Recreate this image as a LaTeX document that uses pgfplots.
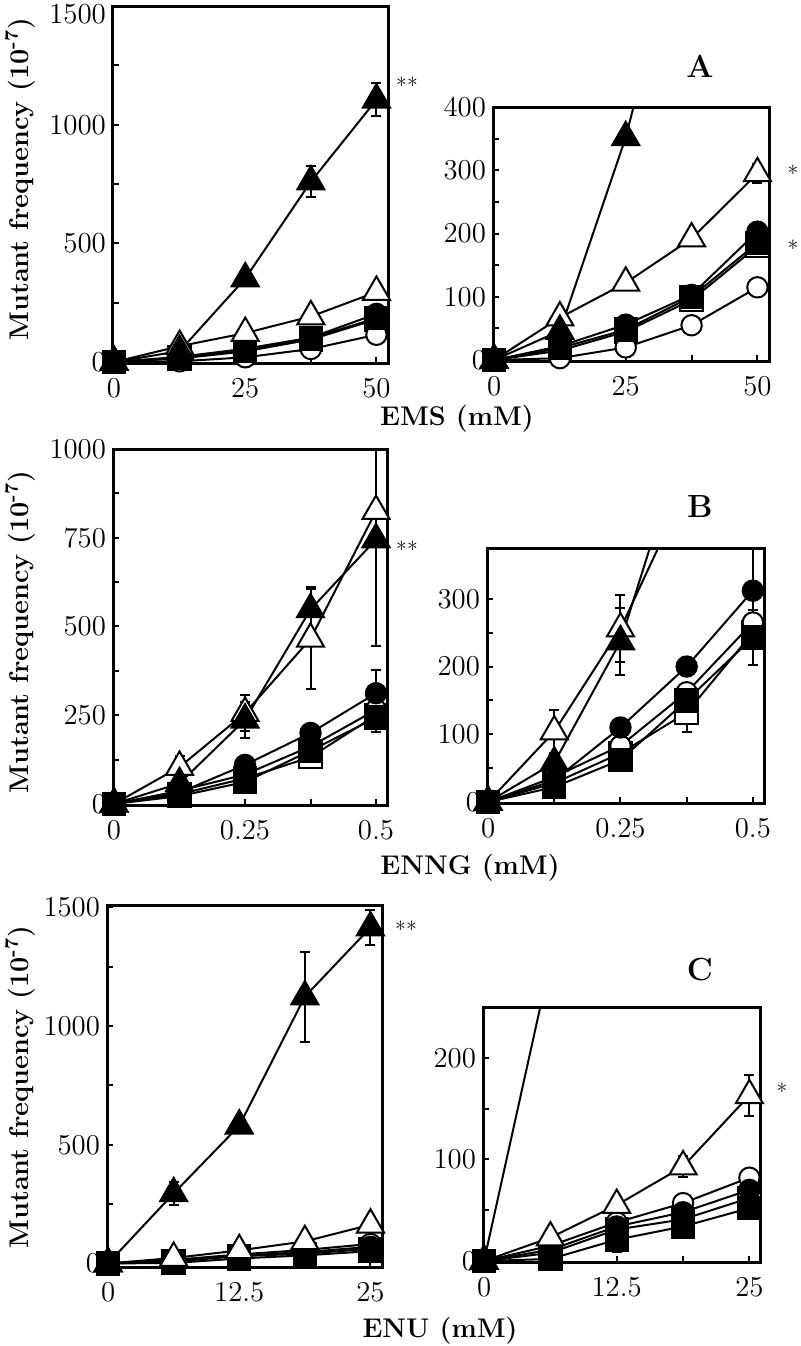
\documentclass[border=0pt]{standalone}
\usepackage{pgfplots}
\pgfplotsset{compat=1.18}
\usepackage{pgfplotstable}

\pgfplotstableread{
x ft ot fc oc fs os
0 0 0 0 0 0 0
12.5 46 67 22 3 19 15
25 352 122 56 20 48 45
37.5 760 192 103 55 100 95
50 1105 295 203 115 185 180
}\dataA
\pgfplotstableread{
x y e
37.5 760 65
50 1105 70
50 295 15
}\errA

\pgfplotstableread{
x ft ot fc oc fs os
0 0 0 0 0 0 0
0.125 58 104 32 37 22 28
0.25 237 256 110 83 62 72
0.375 548 465 200 162 150 132
0.5 745 825 312 265 243 250
}\dataB
\pgfplotstableread{
x y e
0.125 104 32
0.25 256 50
0.25 237 50
0.375 548 62
0.375 465 140
0.375 132 28
0.5 745 300
0.5 312 65
0.5 243 40
}\errB
\pgfplotstableread{
x y e
0.125 104 32
0.25 256 50
0.25 237 50
0.375 132 28
0.5 312 65
0.5 243 40
}\errBr

\pgfplotstableread{
x ft ot fc oc fs os
0 0 0 0 0 0 0
6.25 295 23 11 15 2 8
12.5 580 55 34 38 21 31
18.75 1124 93 48 57 34 41
25 1415 163 70 82 52 62
}\dataC
\pgfplotstableread{
x y e
6.25 295 50
18.75 1124 190
25 1415 75
18.75 93 10
25 163 20
12.5 21 12
}\errC
\pgfplotstableread{
x y e
18.75 93 10
25 163 20
12.5 21 12
}\errCr

\pgfplotsset{
  panel/.style={
    scale only axis, anchor=south west,
    axis line style={line width=1.5pt},
    tick style={line width=1pt, black},
    tick align=inside, xtick pos=bottom, ytick pos=left,
    major tick length=3pt, minor tick length=3pt,
    minor x tick num=1, minor y tick num=1,
    tick label style={font=\fontsize{14.5}{16}\selectfont},
    /pgf/number format/1000 sep={},
    xticklabel style={yshift=-4.5pt},
  },
  ser/.style={line width=1pt, black},
  ftri/.style={ser, mark=triangle*, mark size=7.8pt, mark options={fill=black, draw=black, line width=1pt, solid}},
  otri/.style={ser, mark=triangle*, mark size=7.8pt, mark options={fill=white, draw=black, line width=1pt, solid}},
  fcirc/.style={ser, mark=*, mark size=5.1pt, mark options={fill=black, draw=black, line width=1pt, solid}},
  ocirc/.style={ser, mark=*, mark size=5.1pt, mark options={fill=white, draw=black, line width=1pt, solid}},
  fsq/.style={ser, mark=square*, mark size=5.6pt, mark options={fill=black, draw=black, line width=1pt, solid}},
  osq/.style={ser, mark=square*, mark size=5.6pt, mark options={fill=white, draw=black, line width=1pt, solid}},
  eb/.style={only marks, mark=none, forget plot,
    error bars/.cd, y dir=both, y explicit,
    error bar style={line width=1pt, black},
    error mark options={rotate=90, black, line width=1pt, mark size=2.5pt}},
}
\newcommand{\allseries}[1]{%
  \addplot[osq] table[x=x,y=os]{#1};
  \addplot[ocirc] table[x=x,y=oc]{#1};
  \addplot[fcirc] table[x=x,y=fc]{#1};
  \addplot[fsq] table[x=x,y=fs]{#1};
  \addplot[otri] table[x=x,y=ot]{#1};
  \addplot[ftri] table[x=x,y=ft]{#1};
}

\begin{document}
\begin{tikzpicture}
\useasboundingbox (0,0) rectangle (400pt,-673pt);

% ---- Row A ----
\begin{axis}[panel, at={(56.5pt,-181.5pt)}, width=137.5pt, height=178.5pt,
  xmin=-0.2, xmax=52.2, ymin=-4, ymax=1500, xtick={0,25,50}, ytick={0,500,1000,1500},
  yticklabels={0,500,1000,\raisebox{-8.5pt}[0pt][0pt]{1500}}]
\addplot[eb] table[x=x,y=y,y error=e]{\errA};
\allseries{\dataA}
\end{axis}
\begin{axis}[panel, at={(246.5pt,-180.5pt)}, width=138pt, height=127pt,
  xmin=-0.2, xmax=52.2, ymin=-1.5, ymax=400, xtick={0,25,50}, ytick={0,100,200,300,400}]
\addplot[eb] table[x=x,y=y,y error=e]{\errA};
\allseries{\dataA}
\end{axis}

% ---- Row B ----
\begin{axis}[panel, at={(56.5pt,-402.5pt)}, width=137pt, height=178pt,
  xmin=-0.002, xmax=0.521, ymin=-3, ymax=1000, xtick={0,0.25,0.5}, ytick={0,250,500,750,1000}]
\addplot[eb] table[x=x,y=y,y error=e]{\errB};
\allseries{\dataB}
\end{axis}
\begin{axis}[panel, at={(243.5pt,-401.5pt)}, width=138.5pt, height=127.5pt,
  xmin=-0.002, xmax=0.521, ymin=-1.5, ymax=375, xtick={0,0.25,0.5}, ytick={0,100,200,300}]
\addplot[eb] table[x=x,y=y,y error=e]{\errBr};
\allseries{\dataB}
\end{axis}

% ---- Row C ----
\begin{axis}[panel, at={(53.5pt,-633.5pt)}, width=137.5pt, height=181pt,
  xmin=-0.1, xmax=26.1, ymin=-15, ymax=1510, xtick={0,12.5,25}, ytick={0,500,1000,1500}]
\addplot[eb] table[x=x,y=y,y error=e]{\errC};
\allseries{\dataC}
\end{axis}
\begin{axis}[panel, at={(241.5pt,-631pt)}, width=138.5pt, height=127.5pt,
  xmin=-0.1, xmax=26.0, ymin=-1, ymax=250, xtick={0,12.5,25}, ytick={0,100,200}]
\addplot[eb] table[x=x,y=y,y error=e]{\errCr};
\allseries{\dataC}
\end{axis}

\begin{scope}[x=0.5pt, y=-0.5pt]
  \tikzset{lab/.style={font=\bfseries\fontsize{13.5}{15}\selectfont, inner sep=0pt}}
  \node[lab, rotate=90] at (20,179) {Mutant frequency (10\textsuperscript{-7})};
  \node[lab, rotate=90] at (20,632) {Mutant frequency (10\textsuperscript{-7})};
  \node[lab, rotate=90] at (20,1087) {Mutant frequency (10\textsuperscript{-7})};
  \node[lab, anchor=base] at (457,425) {EMS (mM)};
  \node[lab, anchor=base] at (470,874) {ENNG (mM)};
  \node[lab, anchor=base] at (440,1337) {ENU (mM)};
  \tikzset{pl/.style={font=\bfseries\fontsize{16}{18}\selectfont, inner sep=0pt, anchor=base}}
  \node[pl] at (700,77) {A};
  \node[pl] at (700,517) {B};
  \node[pl] at (700,980) {C};
  \tikzset{ast/.style={font=\fontsize{11}{12}\selectfont, inner sep=0pt}}
  \node[ast] at (407,85) {**};
  \node[ast] at (407,549) {**};
  \node[ast] at (406,929) {**};
  \node[ast] at (793,173) {*};
  \node[ast] at (793,248) {*};
  \node[ast] at (782,1091) {*};
\end{scope}
\end{tikzpicture}
\end{document}
